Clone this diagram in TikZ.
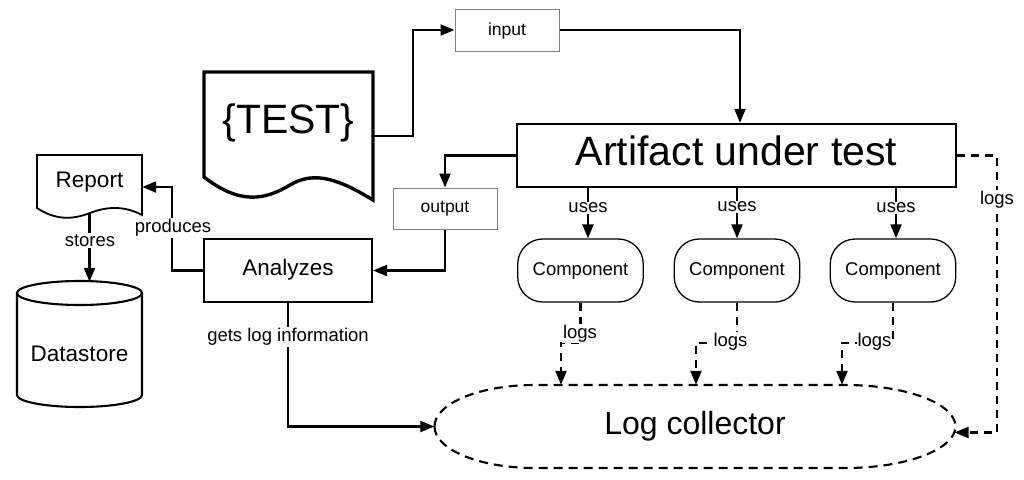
\documentclass[tikz,border=0pt]{standalone}
\usepackage{fontspec}
\setmainfont{Liberation Sans}
\usetikzlibrary{arrows.meta,calc}
\begin{document}
\begin{tikzpicture}[x=1pt,y=-1pt,
  fs/.style={font=\fontsize{#1}{#1}\selectfont},
  tipstyle/.style={-{Triangle[length=14pt,width=11pt]}},
  conn/.style={line width=2.2pt, tipstyle},
  dconn/.style={line width=2.1pt, dash pattern=on 8pt off 6pt, tipstyle},
  lbl/.style={fill=white, inner sep=1pt, fs=18.5},
  thinbox/.style={draw=black!50, line width=1pt, minimum width=104pt, minimum height=42pt, inner sep=0pt, fs=17.5},
  comp/.style={draw, line width=1.3pt, rounded corners=25pt, minimum width=125.5pt, minimum height=63pt, inner sep=0pt, fs=18.5, text height=9pt, text depth=0pt},
  plainbox/.style={draw, line width=2.1pt, inner sep=0pt},
]
\fill[white] (0,0) rectangle (1024,479);
\useasboundingbox (0,0) rectangle (1024,479);

% input / output boxes
\node[thinbox, text height=10pt, text depth=0pt] (input) at (507,30) {input};
\node[thinbox, minimum height=41pt, text height=8.4pt, text depth=0pt] (output) at (445,208.5) {output};

% Artifact under test
\node[plainbox, line width=2.4pt, minimum width=439pt, minimum height=63pt, fs=41, text height=19pt, text depth=0pt] (artifact) at (736.5,155.5) {Artifact under test};

% TEST document
\node[minimum width=169pt, minimum height=128pt, inner sep=0pt, fs=41, text height=0pt, text depth=6pt] (test) at (288.5,136) {\{TEST\}};
\draw[line width=3.4pt] (204,72) -- (373,72) -- (373,200) .. controls (340,180) and (315,170) .. (290,185) .. controls (265,200) and (240,205) .. (204,177) -- cycle;

% Report document
\node[minimum width=105pt, minimum height=64pt, inner sep=0pt, fs=22.5, text height=8pt, text depth=8pt] (report) at (89.5,187) {Report};
\draw[line width=1.8pt] (37,155) -- (142,155) -- (142,215) .. controls (125,206) and (108,206) .. (90,213) .. controls (72,220) and (55,220) .. (37,208) -- cycle;

% Analyzes
\node[plainbox, minimum width=168pt, minimum height=63pt, fs=22.5, text height=9pt, text depth=0pt] (analyzes) at (288,270.5) {Analyzes};

% Datastore cylinder
\node[minimum width=125pt, minimum height=125pt, inner sep=0pt, fs=22.5, text height=33pt, text depth=0pt] (datastore) at (79.5,344.5) {Datastore};
\draw[line width=2.1pt] (17,293) -- (17,395) .. controls (17,401.6) and (45,407) .. (79.5,407) .. controls (114,407) and (142,401.6) .. (142,395) -- (142,293);
\draw[line width=2.1pt] (79.5,293) ellipse[x radius=62.5, y radius=12];

% Components
\node[comp] (c1) at (580.5,270.5) {Component};
\node[comp] (c2) at (737,270.5) {Component};
\node[comp] (c3) at (893,270.5) {Component};

% Log collector
\node[minimum width=521pt, minimum height=83pt, inner sep=0pt, fs=32, text height=15pt, text depth=0pt] (log) at (695,426.5) {Log collector};
\draw[line width=2.1pt, dash pattern=on 9pt off 6pt] (434.5,426.5) .. controls (434.5,403.6) and (479.5,385) .. (534.5,385) -- (845.5,385) .. controls (906,385) and (955.5,403.6) .. (955.5,426.5) .. controls (955.5,449.4) and (906,468) .. (845.5,468) -- (534.5,468) .. controls (479.5,468) and (434.5,449.4) .. cycle;

% helper coordinates
\coordinate (u1) at (588,0);
\coordinate (u2) at (737,0);
\coordinate (u3) at (896,0);
\coordinate (k1) at (561,343);
\coordinate (k2) at (696,343);
\coordinate (k3) at (842,343);
\coordinate (rr) at (997,0);
\coordinate (logR) at (954.5,432.5);

% solid connectors
\draw[conn] (test.east) -- ++(40,0) |- (input.west);
\draw[conn] (input.east) -| ([xshift=3.5pt]artifact.north);
\draw[conn] (artifact.west) -| (output.north);
\draw[conn] (output.south) |- (analyzes.east);
\draw[conn] (analyzes.west) -- ++(-31,0) |- (report.east);
\draw[conn] ([yshift=5pt]report.south) -- (report.south |- datastore.north);
\draw[conn] (analyzes.south) |- (log.west);
\draw[conn] (u1 |- artifact.south) -- (u1 |- c1.north);
\draw[conn] (u2 |- artifact.south) -- (u2 |- c2.north);
\draw[conn] (u3 |- artifact.south) -- (u3 |- c3.north);

% dashed connectors
\draw[dconn] (c1.south) |- (k1) -- (k1 |- log.north);
\draw[dconn] (c2.south) |- (k2) -- (k2 |- log.north);
\draw[dconn] (c3.south) |- (k3) -- (k3 |- log.north);
\draw[dconn] (artifact.east) -| (rr |- logR) -- (logR);

% labels
\node[lbl] (lproduces) at (173,228) {produces};
\node[lbl] (lstores) at (90,240.5) {stores};
\node[lbl] (lgets) at (288,337) {gets log information};
\node[lbl] (luses1) at (588,208) {uses};
\node[lbl] (luses2) at (737,207) {uses};
\node[lbl] (luses3) at (896,208) {uses};
\node[lbl] (llogs1) at (580,333.5) {logs};
\node[lbl] (llogs2) at (730.5,342) {logs};
\node[lbl] (llogs3) at (874.5,342) {logs};
\node[lbl] (llogs4) at (997,200) {logs};
\end{tikzpicture}
\end{document}
